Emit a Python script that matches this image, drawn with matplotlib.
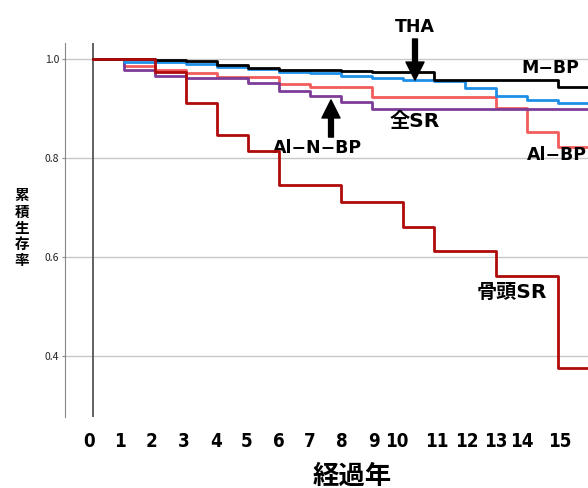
import numpy as np
import matplotlib
matplotlib.use("Agg")
import matplotlib.pyplot as plt

plt.rcParams['font.family'] = ['Noto Sans CJK JP', 'DejaVu Sans']

# follow-up years (step positions)
years = np.arange(0, 17)

# cumulative survival, value from year t onward
m_bp = [1.0, 1.0, 0.998, 0.995, 0.988, 0.981, 0.978, 0.978, 0.976, 0.974,
        0.974, 0.958, 0.958, 0.958, 0.958, 0.943, 0.943]
tha = [1.0, 0.994, 0.993, 0.990, 0.984, 0.979, 0.974, 0.971, 0.966, 0.962,
       0.958, 0.955, 0.942, 0.925, 0.917, 0.911, 0.911]
al_bp = [1.0, 0.985, 0.978, 0.971, 0.964, 0.964, 0.950, 0.943, 0.943, 0.922,
         0.922, 0.922, 0.922, 0.900, 0.852, 0.822, 0.822]
al_n_bp = [1.0, 0.978, 0.966, 0.961, 0.961, 0.952, 0.935, 0.925, 0.912, 0.898,
           0.898, 0.898, 0.898, 0.898, 0.898, 0.898, 0.898]
head_sr = [1.0, 1.0, 0.974, 0.910, 0.846, 0.814, 0.745, 0.745, 0.710, 0.710,
           0.660, 0.613, 0.613, 0.562, 0.562, 0.375, 0.375]

tick_labels = [str(i) for i in range(16)]
tick_pos = [-0.13, 0.87, 1.9, 2.94, 3.97, 4.97, 6.0, 7.0, 8.03, 9.06,
            9.8, 11.1, 12.05, 13.0, 13.85, 15.05]

fig = plt.figure(figsize=(5.88, 4.88), dpi=100)
ax = fig.add_axes([0.1105, 0.1455, 0.8895, 0.7665])

lw = 2.0
ax.step(years, al_bp, where='post', color='#F25C5C', lw=lw, zorder=3)
ax.step(years, al_n_bp, where='post', color='#7D3C98', lw=lw, zorder=3)
ax.step(years, tha, where='post', color='#1E8FE6', lw=lw, zorder=4)
ax.step(years, m_bp, where='post', color='#000000', lw=lw, zorder=5)
ax.step(years, head_sr, where='post', color='#B00A0A', lw=lw, zorder=6)

ax.axvline(0, color='#555555', lw=1.3, zorder=2)

ax.set_xlim(-0.9, 15.97)
ax.set_ylim(0.277, 1.032)
ax.set_yticks([0.4, 0.6, 0.8, 1.0], ['0.4', '0.6', '0.8', '1.0'])
ax.set_xticks(tick_pos, tick_labels)
ax.grid(axis='y', color='#c8c8c8', lw=1)
ax.set_axisbelow(True)

for s in ['top', 'right', 'bottom']:
    ax.spines[s].set_visible(False)
ax.spines['left'].set_color('#888888')

ax.tick_params(axis='y', length=2, color='#888888', labelsize=7.5,
               labelcolor='#222222', pad=2)
ax.tick_params(axis='x', length=0, pad=11)
for lab in ax.get_xticklabels():
    lab.set_family(['DejaVu Sans'])
    lab.set_fontstretch('condensed')
    lab.set_fontweight('bold')
    lab.set_fontsize(13.5)

kw = dict(fontsize=12.5, fontweight='bold', ha='center', va='center',
          clip_on=False, family=['DejaVu Sans', 'Noto Sans CJK JP'])
ax.text(10.39, 1.065, 'THA', **kw)
ax.text(14.74, 0.982, 'M−BP', **kw)
ax.text(7.26, 0.820, 'Al−N−BP', **kw)
ax.text(14.97, 0.806, 'Al−BP', **kw)
kw['fontsize'] = 14.5
ax.text(10.39, 0.873, '全SR', **kw)
ax.text(13.5, 0.529, '骨頭SR', **kw)

arrow = dict(facecolor='black', edgecolor='black', width=3.5, headwidth=13,
             headlength=13)
ax.annotate('', xy=(10.39, 0.957), xytext=(10.39, 1.04), arrowprops=arrow,
            annotation_clip=False, zorder=8)
ax.annotate('', xy=(7.68, 0.917), xytext=(7.68, 0.842), arrowprops=arrow,
            zorder=8)

fig.text(0.037, 0.533, '\n'.join('累積生存率'), fontsize=10.5, fontweight='bold',
         ha='center', va='center', linespacing=1.02)
fig.text(0.599, 0.025, '経過年', fontsize=19, fontweight='bold',
         ha='center', va='center')

fig.savefig('out.png', dpi=100)
